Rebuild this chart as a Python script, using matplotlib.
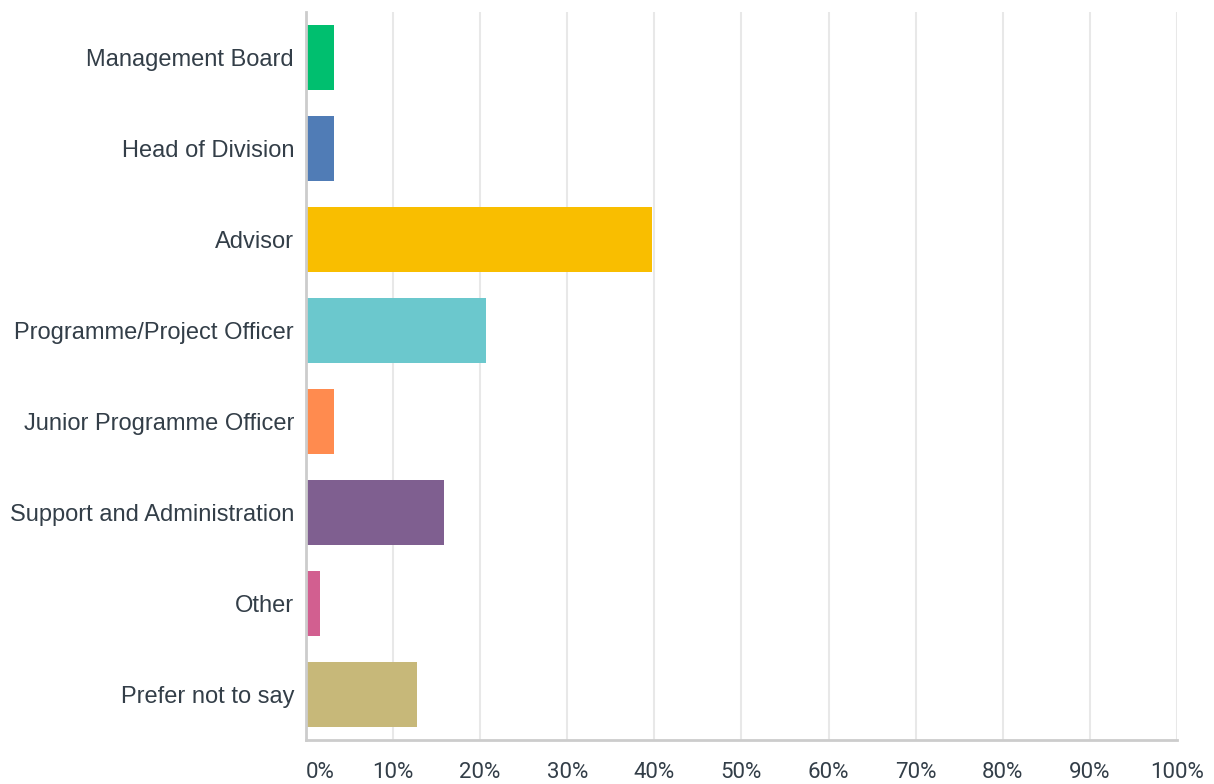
import matplotlib.pyplot as plt
from matplotlib.ticker import FuncFormatter
from matplotlib.transforms import ScaledTranslation

# Data
categories = ['Management Board', 'Head of Division', 'Advisor', 'Programme/Project Officer',
              'Junior Programme Officer', 'Support and Administration', 'Other', 'Prefer not to say']
values = [3.17, 3.17, 39.68, 20.63, 3.17, 15.87, 1.59, 12.70]
colors = ['#00bf6f', '#507cb6', '#f9be00', '#6bc8cd', '#ff8b4f', '#7f5f90', '#d25f90', '#c7b879']
ticks = list(range(0, 101, 10))

TEXT = '#333e48'

fig = plt.figure(figsize=(12.14, 7.84), dpi=100)
ax = fig.add_axes([0.252, 0.0561, 0.7175, 0.9289])

y = list(range(len(categories)))
ax.barh(y, values, height=0.72, color=colors, zorder=3)

ax.set_xlim(0, 100)
ax.set_ylim(len(categories) - 0.5, -0.5)
ax.set_xticks(ticks)
ax.xaxis.set_major_formatter(FuncFormatter(lambda v, p: f'{int(v)}%'))
ax.set_yticks(y)
ax.set_yticklabels(categories, fontsize=17, color=TEXT, family=['Liberation Sans', 'DejaVu Sans'],
                   va='center_baseline')
# nudge the category labels up a little
shift = ScaledTranslation(0, 3 / 100, fig.dpi_scale_trans)
for lbl in ax.get_yticklabels():
    lbl.set_transform(lbl.get_transform() + shift)
for lbl in ax.get_xticklabels():
    lbl.set_fontsize(16)
    lbl.set_color(TEXT)
    lbl.set_family(['Roboto', 'DejaVu Sans'])
ax.get_xticklabels()[0].set_horizontalalignment('left')

ax.tick_params(axis='x', length=0, pad=16)
ax.tick_params(axis='y', length=0, pad=8.5)
ax.grid(axis='x', color='#e8e8e8', linewidth=1.5, zorder=0)

for side in ['top', 'right']:
    ax.spines[side].set_visible(False)
for side in ['left', 'bottom']:
    ax.spines[side].set_color('#cccccc')
    ax.spines[side].set_linewidth(2)
    ax.spines[side].set_zorder(4)

fig.savefig('out.png', dpi=100, facecolor='white')
